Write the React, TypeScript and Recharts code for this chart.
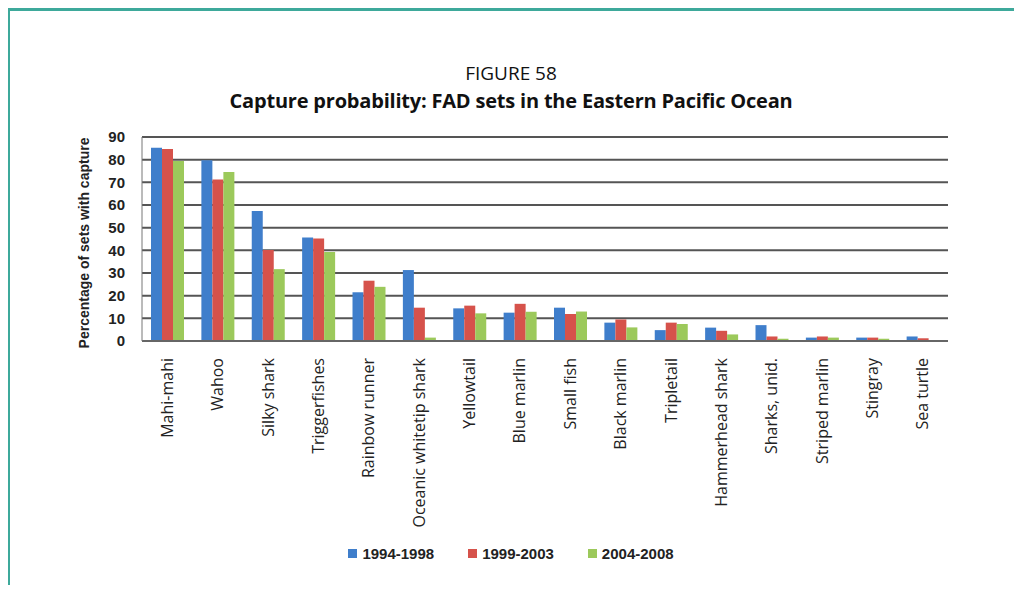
import React from 'react';
import { Bar, BarChart, CartesianGrid, XAxis, YAxis } from 'recharts';

const categories = [
  'Mahi-mahi',
  'Wahoo',
  'Silky shark',
  'Triggerfishes',
  'Rainbow runner',
  'Oceanic whitetip shark',
  'Yellowtail',
  'Blue marlin',
  'Small fish',
  'Black marlin',
  'Tripletail',
  'Hammerhead shark',
  'Sharks, unid.',
  'Striped marlin',
  'Stingray',
  'Sea turtle',
];

const p1994 = [85.3, 79.7, 57.4, 45.7, 21.5, 31.3, 14.4, 12.5, 14.7, 8.1, 4.8, 5.9, 7, 1.5, 1.5, 2];
const p1999 = [84.7, 71.2, 40.1, 45.2, 26.6, 14.7, 15.6, 16.4, 11.9, 9.5, 8.1, 4.5, 2, 2, 1.5, 1.2];
const p2004 = [79.4, 74.6, 31.7, 39.3, 23.9, 1.5, 12.2, 12.9, 13, 6, 7.5, 2.9, 1, 1.5, 1, 0.3];

const yTicks = [0, 10, 20, 30, 40, 50, 60, 70, 80, 90];

const series = [
  { key: 'a', name: '1994-1998', color: '#3f7ecb', values: p1994 },
  { key: 'b', name: '1999-2003', color: '#d6524b', values: p1999 },
  { key: 'c', name: '2004-2008', color: '#9cc95b', values: p2004 },
];

const data = categories.map((name, i) => {
  const row: { [k: string]: string | number } = { name };
  series.forEach((s) => {
    row[s.key] = s.values[i];
  });
  return row;
});

const XTick = (props: any) => {
  const { x, y, payload } = props;
  const ay = y + 15;
  return (
    <text
      x={x}
      y={ay}
      transform={`rotate(-90, ${x}, ${ay})`}
      textAnchor="end"
      dy="0.35em"
      fontFamily="'Open Sans', sans-serif"
      fontSize={16}
      fill="#222"
    >
      {payload.value}
    </text>
  );
};

export default function App() {
  return (
    <div style={{ position: 'relative', width: 1022, height: 593, margin: -8, background: '#fff', overflow: 'hidden' }}>
      <div
        style={{
          position: 'absolute',
          left: 7,
          top: 8,
          right: 0,
          bottom: 0,
          borderTop: '3px solid #3ea99b',
          borderLeft: '3px solid #3ea99b',
        }}
      />
      <div
        style={{
          position: 'absolute',
          top: 60,
          width: 1022,
          textAlign: 'center',
          fontFamily: "'Open Sans', sans-serif",
          fontSize: 19,
          color: '#111',
        }}
      >
        FIGURE 58
      </div>
      <div
        style={{
          position: 'absolute',
          top: 87,
          width: 1022,
          textAlign: 'center',
          fontFamily: "'Open Sans', sans-serif",
          fontWeight: 700,
          fontSize: 20,
          letterSpacing: -0.2,
          color: '#111',
        }}
      >
        Capture probability: FAD sets in the Eastern Pacific Ocean
      </div>
      <div
        style={{
          position: 'absolute',
          left: 84,
          top: 243,
          transform: 'translate(-50%, -50%) rotate(-90deg)',
          whiteSpace: 'nowrap',
          fontFamily: "'Liberation Sans', Arial, sans-serif",
          fontWeight: 700,
          fontSize: 14,
          color: '#222',
        }}
      >
        Percentage of sets with capture
      </div>
      <div style={{ position: 'absolute', left: 0, top: 0 }}>
        <BarChart
          width={1022}
          height={593}
          data={data}
          margin={{ top: 137, right: 74, bottom: 62, left: 82 }}
          barGap={0}
        >
          <CartesianGrid vertical={false} stroke="#555" strokeWidth={2} />
          <XAxis
            dataKey="name"
            interval={0}
            height={190}
            tickLine={false}
            tickSize={0}
            stroke="#666"
            strokeWidth={2}
            tick={<XTick />}
          />
          <YAxis
            width={60}
            domain={[0, 90]}
            ticks={yTicks}
            interval={0}
            tickLine={false}
            tickMargin={11}
            stroke="#777"
            strokeWidth={1}
            tick={{ fill: '#222', fontSize: 15, fontWeight: 700, fontFamily: "'Liberation Sans', Arial, sans-serif" }}
          />
          {series.map((s) => (
            <Bar key={s.key} dataKey={s.key} name={s.name} fill={s.color} barSize={11} isAnimationActive={false} />
          ))}
        </BarChart>
      </div>
      <div
        style={{
          position: 'absolute',
          top: 545,
          left: 0,
          width: 1022,
          display: 'flex',
          justifyContent: 'center',
          gap: 34,
        }}
      >
        {series.map((s) => (
          <div key={s.key} style={{ display: 'flex', alignItems: 'center' }}>
            <span style={{ width: 9, height: 9, background: s.color, marginRight: 5, display: 'inline-block' }} />
            <span style={{ fontFamily: "'Liberation Sans', Arial, sans-serif", fontWeight: 700, fontSize: 15, color: '#222' }}>
              {s.name}
            </span>
          </div>
        ))}
      </div>
    </div>
  );
}
